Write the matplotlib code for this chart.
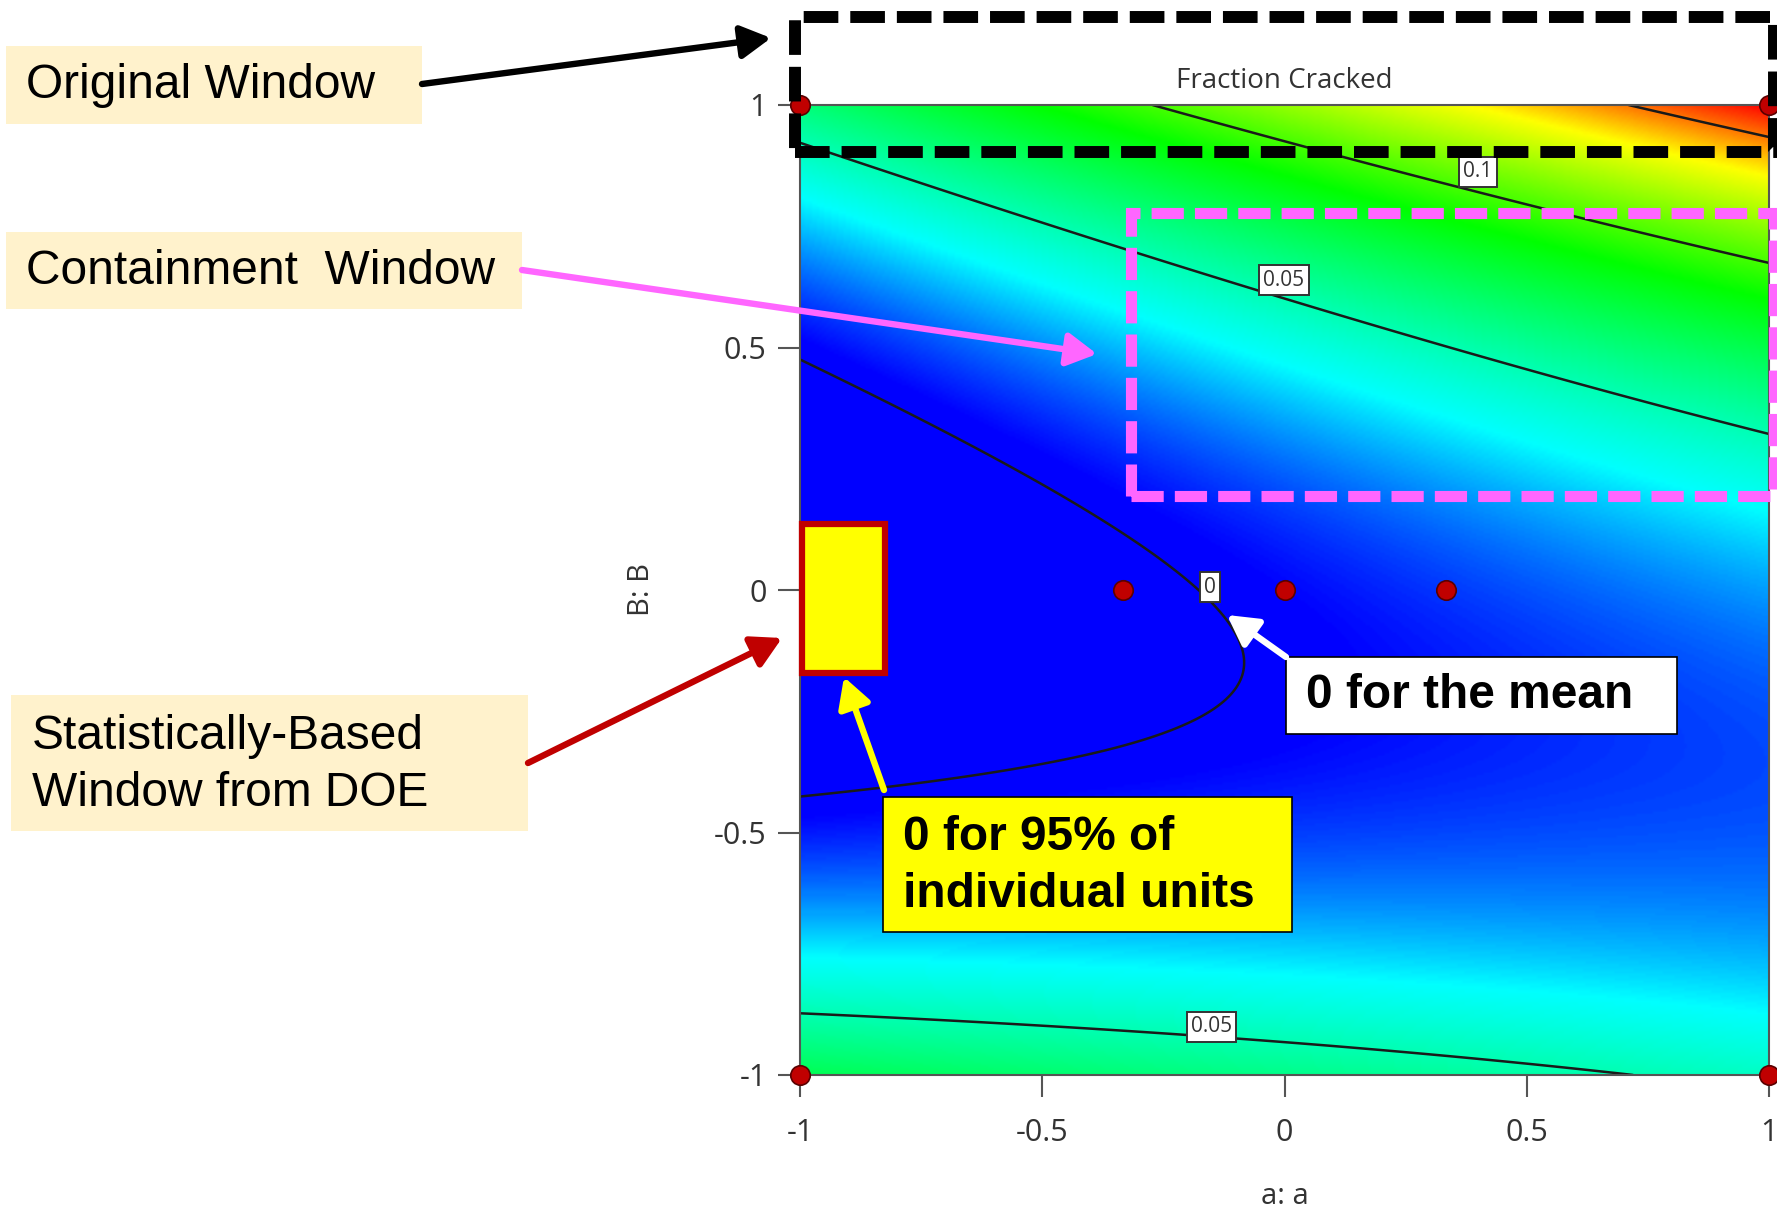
import numpy as np
import matplotlib
matplotlib.use("Agg")
import matplotlib.pyplot as plt
from matplotlib.colors import LinearSegmentedColormap, Normalize
from matplotlib.patches import Rectangle, FancyArrowPatch

W, H = 1777, 1211

# fitted quadratic model for Fraction Cracked, coded factors a and B
coef_const = 0.0035
coef_a = 0.0196
coef_b = 0.0275
coef_ab = 0.0316
coef_aa = -0.0007
coef_bb = 0.083

contour_levels = [0, 0.05, 0.1, 0.15]
label_text = {0: "0", 0.05: "0.05", 0.1: "0.1"}

# design points (coded)
design_a = [-1, 1, -1, 1, -1 / 3, 0, 1 / 3]
design_b = [1, 1, -1, -1, 0, 0, 0]

ticks = [-1, -0.5, 0, 0.5, 1]
tick_labels = ["-1", "-0.5", "0", "0.5", "1"]

# response values at which the colour ramp changes hue
ramp_values = [0.003, 0.034, 0.088, 0.134, 0.165]
ramp_colors = ["#0000ff", "#00ffff", "#00ff00", "#ffff00", "#ff0000"]


def px(x, y):
    """pixel position -> figure fraction"""
    return x / W, 1 - y / H


fig = plt.figure(figsize=(W / 100, H / 100), dpi=100)
ax = fig.add_axes([800 / W, 1 - 1075 / H, 969 / W, 970 / H])

ga = np.linspace(-1, 1, 401)
gb = np.linspace(-1, 1, 401)
A, B = np.meshgrid(ga, gb)
F = (coef_const + coef_a * A + coef_b * B + coef_ab * A * B
     + coef_aa * A ** 2 + coef_bb * B ** 2)

lo, hi = ramp_values[0], ramp_values[-1]
stops = [((v - lo) / (hi - lo), c) for v, c in zip(ramp_values, ramp_colors)]
cmap = LinearSegmentedColormap.from_list("de", stops)
ax.imshow(F, extent=[-1, 1, -1, 1], origin="lower", cmap=cmap,
          norm=Normalize(lo, hi), aspect="auto", interpolation="bilinear")

cs = ax.contour(A, B, F, levels=contour_levels, colors="#1a1a1a", linewidths=1.8)
label_spots = [(0.399, 0.862), (-0.001, 0.639), (-0.153, 0.006), (-0.151, -0.901)]
lbls = ax.clabel(cs, levels=[0, 0.05, 0.1], inline=False, fmt=label_text,
                 fontsize=15, colors="#333333", manual=label_spots)
# boxes sit just above the line, not centred on it
for t in lbls:
    x, y = t.get_position()
    spot = min(label_spots, key=lambda p: (p[0] - x) ** 2 + (p[1] - y) ** 2)
    t.set_position(spot)
    t.set_rotation(0)
    t.set_family("Open Sans")
    t.set_zorder(6)
    t.set_bbox(dict(boxstyle="square,pad=0.2", fc="white", ec="#333333", lw=1.4))

ax.plot(design_a, design_b, "o", color="#c00000", mec="#5a0000", mew=1.2,
        ms=14, clip_on=False, zorder=7)

ax.set_xlim(-1, 1)
ax.set_ylim(-1, 1)
ax.set_xticks(ticks, tick_labels)
ax.set_yticks(ticks, tick_labels)
ax.tick_params(direction="out", length=16, width=1.5, color="#555555",
               labelsize=22, labelcolor="#333333", pad=8)
ax.tick_params(axis="x", pad=15)
for lab in ax.get_xticklabels() + ax.get_yticklabels():
    lab.set_family("Open Sans")
for sp in ax.spines.values():
    sp.set_color("#555555")
    sp.set_linewidth(1.5)

ax.set_title("Fraction Cracked", fontsize=20, color="#333333",
             family="Open Sans", pad=12)
ax.set_xlabel("a: a", fontsize=21, color="#333333", family="Open Sans")
ax.set_ylabel("B: B", fontsize=21, color="#333333", family="Open Sans")
ax.xaxis.set_label_coords(0.5, -0.125)
ax.yaxis.set_label_coords(-0.164, 0.5)
ax.xaxis.label.set_va("center")
ax.yaxis.label.set_va("center")

# operating windows in factor space
dash = (0, (2.9, 1.0))
ax.add_patch(Rectangle((-1.010, 0.903), 2.020, 0.278, fill=False, ec="black",
                       lw=8.6, ls=dash, clip_on=False, zorder=8))
ax.add_patch(Rectangle((-0.317, 0.194), 1.327, 0.583, fill=False, ec="#ff66ff",
                       lw=8.0, ls=dash, clip_on=False, zorder=8))
ax.add_patch(Rectangle((-0.996, -0.171), 0.171, 0.307, fc="#ffff00", ec="#c00000",
                       lw=4.5, clip_on=False, zorder=8))


def box(x0, y0, x1, y1, fc, ec=None, lw=0):
    (fx0, fy1), (fx1, fy0) = px(x0, y0), px(x1, y1)
    fig.add_artist(Rectangle((fx0, fy0), fx1 - fx0, fy1 - fy0,
                             transform=fig.transFigure, fc=fc,
                             ec=ec if ec else fc, lw=lw, zorder=10))


def label(x, y, s, bold=False, size=34.5):
    fig.text(*px(x, y), s, fontsize=size, family="Liberation Sans",
             weight="bold" if bold else "normal", ha="left", va="center",
             linespacing=1.37, zorder=11)


def arrow(x0, y0, x1, y1, color, lw=4.6):
    fig.add_artist(FancyArrowPatch(px(x0, y0), px(x1, y1),
                                   transform=fig.transFigure,
                                   arrowstyle="-|>,head_length=0.45,head_width=0.25",
                                   mutation_scale=40, color=color, lw=lw,
                                   shrinkA=0, shrinkB=0, zorder=12))


box(6, 46, 422, 124, "#fff2cc")
label(26, 86, "Original Window")
box(6, 232, 522, 309, "#fff2cc")
label(26, 271, "Containment  Window")
box(11, 695, 528, 831, "#fff2cc")
label(32, 765, "Statistically-Based\nWindow from DOE")

box(883, 797, 1292, 932, "#ffff00", "black", 1.2)
label(903, 866, "0 for 95% of\nindividual units", bold=True)
box(1286, 657, 1677, 734, "white", "black", 1.2)
label(1306, 696, "0 for the mean", bold=True)

arrow(422, 84, 771, 38, "black")
arrow(522, 270, 1097, 354, "#ff66ff")
arrow(528, 763, 782, 638, "#c00000")
arrow(884, 790, 844, 677, "#ffff00")
arrow(1286, 657, 1227, 615, "white")

fig.savefig("out.png", dpi=100)
